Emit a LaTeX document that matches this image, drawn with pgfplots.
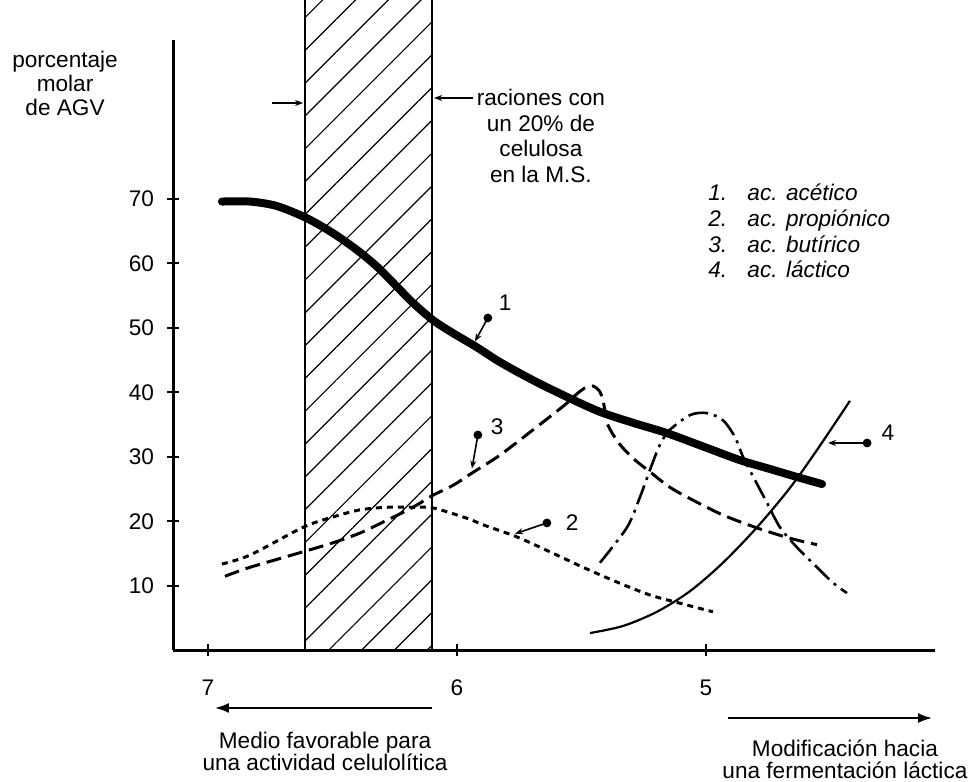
\documentclass[border=0pt]{standalone}
\usepackage{pgfplots}
\pgfplotsset{compat=1.18}
\usepackage{pgfplotstable}
\usepackage{fontspec}
\setmainfont{Liberation Sans}
\usetikzlibrary{patterns.meta,arrows.meta}

% 1. ac. acetico (thick solid)
\pgfplotstableread{
pH v
6.944 69.6
6.831 69.6
6.723 68.9
6.602 67.0
6.498 64.7
6.402 62.1
6.321 59.5
6.241 56.4
6.177 53.9
6.096 51.2
6.016 49.2
5.920 47.0
5.827 44.7
5.695 41.9
5.558 39.3
5.426 37.0
5.293 35.3
5.157 33.7
4.996 31.4
4.863 29.5
4.731 28.0
4.635 26.9
4.534 25.8
}\acetico

% 2. ac. propionico (short dashes)
\pgfplotstableread{
pH v
6.944 13.4
6.831 14.8
6.618 19.1
6.498 20.7
6.390 21.8
6.281 22.2
6.177 22.2
6.096 22.1
5.960 20.5
5.896 19.5
5.759 17.6
5.627 15.3
5.494 12.9
5.357 10.6
5.225 8.6
5.092 7.2
4.972 6.0
}\propionico

% 3. ac. butirico (dashed)
\pgfplotstableread{
pH v
6.932 11.5
6.831 12.9
6.618 15.3
6.498 16.7
6.390 18.2
6.281 20.2
6.177 22.2
6.100 24.0
6.016 25.6
5.936 27.6
5.827 30.3
5.695 34.2
5.566 38.1
5.518 39.8
5.486 40.7
5.454 41.0
5.426 40.1
5.410 38.1
5.398 35.3
5.353 32.3
5.293 29.8
5.225 27.7
5.145 25.3
5.052 23.3
4.932 21.0
4.795 19.0
4.663 17.4
4.554 16.4
}\butirico

% 4. ac. lactico (thin solid)
\pgfplotstableread{
pH v
5.466 2.7
5.333 3.8
5.197 6.0
5.064 9.2
4.932 13.6
4.795 19.1
4.663 25.2
4.554 31.1
4.422 38.7
}\lactico

% unlabeled dash-dot curve
\pgfplotstableread{
pH v
5.426 13.6
5.317 19.1
5.265 23.8
5.225 28.0
5.185 31.9
5.145 34.2
5.064 36.5
4.996 36.8
4.932 35.7
4.884 33.1
4.851 30.0
4.803 26.4
4.755 22.9
4.703 19.1
4.635 16.0
4.554 12.9
4.490 10.5
4.434 8.9
}\otro

\newcommand{\fs}{\fontsize{11.3}{12.6}\selectfont}

\begin{document}
\begin{tikzpicture}
\begin{axis}[
  x=124.5pt, y=3.225pt,
  xmin=-7.14, xmax=-4.08, ymin=0, ymax=94.6,
  axis lines*=left,
  axis line style={line width=1.6pt},
  xtick={-7,-6,-5}, xticklabels={7,6,5},
  ytick={10,20,...,70},
  tick align=center, major tick length=6pt,
  every tick/.style={black, line width=1pt},
  clip=false, no markers,
  /pgf/number format/assume math mode=true,
  ticklabel style={font=\fs},
  xticklabel style={yshift=-8pt},
  yticklabel style={xshift=-3pt},
]
\coordinate (TL) at (axis cs:-7.8353,100.85);
\coordinate (BR) at (axis cs:-3.9398,-20.39);

% hatched band
\fill[pattern={Lines[angle=45,distance=11.6pt,line width=0.6pt]}] (axis cs:-6.61,0) rectangle (axis cs:-6.10,100.85);
\draw[line width=1pt] (axis cs:-6.61,0) -- (axis cs:-6.61,100.85);
\draw[line width=1pt] (axis cs:-6.10,0) -- (axis cs:-6.10,100.85);

\addplot[line width=4pt, smooth, line cap=round] table[x expr=-\thisrow{pH}, y=v]{\acetico};
\addplot[line width=1.5pt, smooth, dash pattern=on 3pt off 2.5pt] table[x expr=-\thisrow{pH}, y=v]{\propionico};
\addplot[line width=1.5pt, smooth, tension=0.5, dash pattern=on 7.5pt off 3.5pt] table[x expr=-\thisrow{pH}, y=v]{\butirico};
\addplot[line width=1.1pt, smooth] table[x expr=-\thisrow{pH}, y=v]{\lactico};
\addplot[line width=1.3pt, smooth, dash pattern=on 10pt off 3pt on 1.5pt off 3pt] table[x expr=-\thisrow{pH}, y=v]{\otro};

% curve labels
\fill (axis cs:-5.876,51.55) circle (2.2pt);
\draw[line width=0.8pt, -{Stealth[length=4pt,width=3pt]}] (axis cs:-5.876,51.55) -- (axis cs:-5.928,47.9);
\node[font=\fs] at (axis cs:-5.807,53.9) {1};
\fill (axis cs:-5.639,19.77) circle (2.2pt);
\draw[line width=0.8pt, -{Stealth[length=4pt,width=3pt]}] (axis cs:-5.639,19.77) -- (axis cs:-5.767,18.1);
\node[font=\fs] at (axis cs:-5.538,19.77) {2};
\fill (axis cs:-5.916,33.41) circle (2.2pt);
\draw[line width=0.8pt, -{Stealth[length=4pt,width=3pt]}] (axis cs:-5.916,33.41) -- (axis cs:-5.940,28.2);
\node[font=\fs] at (axis cs:-5.839,34.65) {3};
\fill (axis cs:-4.353,32.17) circle (2.2pt);
\draw[line width=0.8pt, -{Stealth[length=4pt,width=3pt]}] (axis cs:-4.353,32.17) -- (axis cs:-4.510,32.17);
\node[font=\fs] at (axis cs:-4.269,33.72) {4};

% legend text
\begin{scope}[every node/.style={font=\fs\itshape, anchor=west, inner sep=0pt, text height=8.2pt, text depth=2.2pt}]
\node at (axis cs:-4.992,70.62) {1.};
\node at (axis cs:-4.992,66.59) {2.};
\node at (axis cs:-4.992,62.56) {3.};
\node at (axis cs:-4.992,58.68) {4.};
\node at (axis cs:-4.835,70.62) {ac. acético};
\node at (axis cs:-4.835,66.59) {ac. propiónico};
\node at (axis cs:-4.835,62.56) {ac. butírico};
\node at (axis cs:-4.835,58.68) {ac. láctico};
\end{scope}

% y label
\node[font=\fontsize{11.3}{12}\selectfont, align=center] at (axis cs:-7.574,87.98) {porcentaje\\molar\\de AGV};

% raciones annotation
\node[font=\fontsize{11.3}{12.7}\selectfont, align=center] at (axis cs:-5.663,79.77) {raciones con\\un 20\% de\\celulosa\\en la M.S.};
\draw[line width=0.8pt, -{Stealth[length=4pt,width=3pt]}] (axis cs:-5.936,85.66) -- (axis cs:-6.092,85.66);
\draw[line width=0.8pt, -{Stealth[length=4pt,width=3pt]}] (axis cs:-6.743,84.88) -- (axis cs:-6.618,84.88);

% bottom arrows and texts
\draw[line width=1pt, -{Latex[length=7pt,width=5pt]}] (axis cs:-6.100,-8.91) -- (axis cs:-6.972,-8.91);
\draw[line width=1pt, -{Latex[length=7pt,width=5pt]}] (axis cs:-4.912,-10.47) -- (axis cs:-4.092,-10.47);
\node[font=\fontsize{11.3}{11}\selectfont, align=center] at (axis cs:-6.530,-15.58) {Medio favorable para\\una actividad celulolítica};
\node[font=\fontsize{11.3}{11}\selectfont, align=center] at (axis cs:-4.442,-16.82) {Modificación hacia\\una fermentación láctica};
\end{axis}
\pgfresetboundingbox
\path[use as bounding box] (TL) rectangle (BR);
\end{tikzpicture}
\end{document}
